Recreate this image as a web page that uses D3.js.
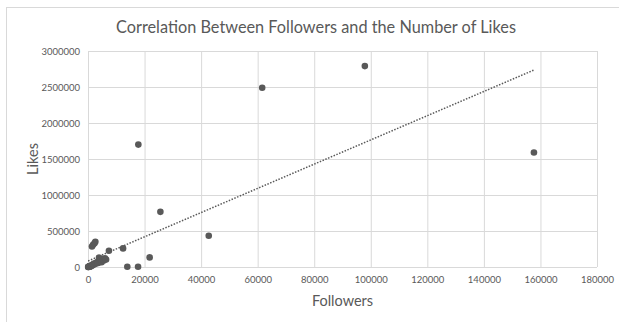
<!DOCTYPE html>
<html>
<head>
<meta charset="utf-8">
<script src="https://cdn.jsdelivr.net/npm/d3@7"></script>
<style>
  body { margin: 0; background: #fff; }
  text { font-family: Lato, "Open Sans", sans-serif; fill: #595959; }
</style>
</head>
<body>
<div id="chart-area"></div>
<script>
const W = 619, H = 322
const MARGIN = { LEFT: 88, RIGHT: 22, TOP: 51, BOTTOM: 55 }
const WIDTH = W - MARGIN.LEFT - MARGIN.RIGHT
const HEIGHT = H - MARGIN.TOP - MARGIN.BOTTOM

// data
const followers = [61600, 97900, 157700, 17800, 25600, 42700, 12400, 21800, 13900, 17700, 7400,
  1400, 1800, 2300, 2600,
  50, 120, 200, 300, 400, 500, 650, 800, 900, 1000, 1100, 1300, 1500, 1700, 1900, 2100,
  2400, 2700, 3000, 3300, 3600, 3900, 4200, 4500, 4800, 5200, 5600, 6000, 6400]
const likes = [2490000, 2790000, 1590000, 1700000, 766000, 434000, 258000, 133000, 4000, 4000, 226000,
  285000, 310000, 330000, 350000,
  500, 1500, 3000, 2000, 6000, 8000, 5000, 12000, 10000, 18000, 15000, 25000, 20000, 30000, 40000, 35000,
  50000, 45000, 60000, 70000, 55000, 130000, 80000, 100000, 65000, 110000, 90000, 120000, 105000]
const xTicks = [0, 20000, 40000, 60000, 80000, 100000, 120000, 140000, 160000, 180000]
const yTicks = [0, 500000, 1000000, 1500000, 2000000, 2500000, 3000000]

const data = followers.map((f, i) => ({ x: f, y: likes[i] }))

const root = d3.select("#chart-area").append("svg")
  .attr("width", W)
  .attr("height", H)

// chart area frame
root.append("rect")
  .attr("x", 6.5).attr("y", 7.5)
  .attr("width", W).attr("height", H)
  .attr("fill", "#fff")
  .attr("stroke", "#d9d9d9")

const svg = root.append("g")
  .attr("transform", `translate(${MARGIN.LEFT},${MARGIN.TOP})`)

const xScale = d3.scaleLinear().domain([0, 180000]).range([0, WIDTH])
const yScale = d3.scaleLinear().domain([0, 3000000]).range([HEIGHT, 0])

// gridlines
svg.append("g")
  .call(d3.axisBottom(xScale).tickValues(xTicks).tickSize(-HEIGHT).tickFormat(""))
  .attr("transform", `translate(0,${HEIGHT})`)
  .call(g => g.select(".domain").remove())
  .call(g => g.selectAll("line").attr("stroke", "#d9d9d9"))
svg.append("g")
  .call(d3.axisLeft(yScale).tickValues(yTicks).tickSize(-WIDTH).tickFormat(""))
  .call(g => g.select(".domain").remove())
  .call(g => g.selectAll("line").attr("stroke", "#d9d9d9"))

// tick labels
svg.append("g")
  .attr("transform", `translate(0,${HEIGHT})`)
  .call(d3.axisBottom(xScale).tickValues(xTicks).tickSize(0).tickPadding(9).tickFormat(d3.format("d")))
  .call(g => g.select(".domain").remove())
  .call(g => g.selectAll("text").style("font-size", "9.5px").attr("fill", "#595959"))
svg.append("g")
  .call(d3.axisLeft(yScale).tickValues(yTicks).tickSize(0).tickPadding(8).tickFormat(d3.format("d")))
  .call(g => g.select(".domain").remove())
  .call(g => g.selectAll("text").style("font-size", "9.5px").attr("fill", "#595959"))

// linear trendline (least squares)
const mx = d3.mean(data, d => d.x), my = d3.mean(data, d => d.y)
const slope = d3.sum(data, d => (d.x - mx) * (d.y - my)) / d3.sum(data, d => (d.x - mx) ** 2)
const icpt = my - slope * mx
const xr = d3.extent(data, d => d.x)
svg.append("line")
  .attr("x1", xScale(xr[0])).attr("y1", yScale(icpt + slope * xr[0]))
  .attr("x2", xScale(xr[1])).attr("y2", yScale(icpt + slope * xr[1]))
  .attr("stroke", "#595959")
  .attr("stroke-width", 1.5)
  .attr("stroke-dasharray", "1.5,1.5")

// points
svg.selectAll("circle")
  .data(data)
  .join("circle")
  .attr("cx", d => xScale(d.x))
  .attr("cy", d => yScale(d.y))
  .attr("r", 3.3)
  .attr("fill", "#595959")

// titles
root.append("text")
  .attr("x", 316).attr("y", 33)
  .attr("text-anchor", "middle")
  .style("font-size", "16.3px")
  .text("Correlation Between Followers and the Number of Likes")
root.append("text")
  .attr("x", MARGIN.LEFT + WIDTH / 2).attr("y", 306)
  .attr("text-anchor", "middle")
  .style("font-size", "14.5px")
  .text("Followers")
root.append("text")
  .attr("transform", `translate(38,${MARGIN.TOP + HEIGHT / 2}) rotate(-90)`)
  .attr("text-anchor", "middle")
  .style("font-size", "14.5px")
  .text("Likes")
</script>
</body>
</html>
